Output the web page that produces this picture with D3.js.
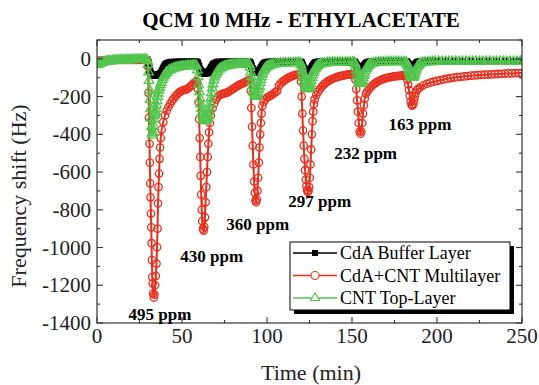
<!DOCTYPE html>
<html>
<head>
<meta charset="utf-8">
<script src="https://cdn.jsdelivr.net/npm/d3@7"></script>
<style>
  body { margin: 0; background: #fff; }
  svg { display: block; font-family: "Liberation Serif", "Times New Roman", serif; }
</style>
</head>
<body>
<div id="chart"></div>
<script>
// [time (min), frequency shift (Hz)]
var bufferLayer = [
  [0,-14],[2,-12],[4,-10],[6,-9],[8,-8],[10,-7],[12,-7],[14,-6],[16,-6],[18,-6],[20,-5],[22,-5],[24,-5],[26,-5],[28,-5],[29.5,-6],
  [30.2,-20],[30.6,-42],[31,-62],[31.5,-76],[32,-84],[32.5,-87],[33,-88],[33.5,-88],[34,-88],[34.5,-88],[35,-87],[35.5,-86],[36,-85],[36.5,-83],[37,-81],[37.5,-78],[38,-72],[38.5,-62],[39,-52],[39.5,-44],[40,-37],[40.5,-31],[41,-26],[42,-22],[43,-19],[44,-18],[46,-17],[48,-16],[50,-16],[52,-16],[54,-16],[56,-16],[58,-16],[58.8,-17],
  [59.3,-24],[59.8,-38],[60.3,-52],[60.8,-61],[61.3,-67],[61.8,-71],[62.3,-74],[62.8,-76],[63.3,-76],[63.8,-76],[64.3,-75],[64.8,-74],[65.3,-71],[65.8,-67],[66.3,-61],[66.8,-54],[67.3,-46],[67.8,-38],[68.3,-31],[69,-26],[70,-21],[71,-18],[72,-17],[74,-16],[76,-16],[78,-16],[80,-16],[82,-16],[84,-16],[86,-16],[88,-16],[89.8,-17],
  [90.3,-24],[90.8,-38],[91.3,-51],[91.8,-60],[92.3,-66],[92.8,-70],[93.3,-72],[93.8,-72],[94.3,-71],[94.8,-69],[95.3,-65],[95.8,-60],[96.3,-53],[96.8,-45],[97.3,-37],[97.8,-30],[98.4,-25],[99,-21],[100,-18],[101,-17],[103,-16],[105,-16],[108,-16],[111,-16],[114,-16],[117,-16],[119.8,-17],
  [120.3,-22],[120.8,-33],[121.3,-44],[121.8,-53],[122.3,-59],[122.8,-63],[123.3,-66],[123.8,-67],[124.3,-67],[124.8,-65],[125.3,-61],[125.8,-55],[126.3,-48],[126.8,-40],[127.3,-33],[127.8,-27],[128.4,-22],[129,-19],[130,-17],[131,-16],[133,-16],[136,-15],[139,-15],[142,-15],[145,-15],[148,-15],[151.3,-16],
  [151.8,-21],[152.3,-28],[152.8,-36],[153.3,-43],[153.8,-48],[154.3,-51],[154.8,-53],[155.3,-52],[155.8,-50],[156.3,-46],[156.8,-41],[157.3,-35],[157.8,-29],[158.4,-24],[159,-20],[160,-17],[161,-16],[163,-15],[166,-15],[170,-14],[174,-14],[178,-14],[181.8,-15],
  [182.3,-18],[182.8,-23],[183.3,-30],[183.8,-36],[184.3,-40],[184.8,-43],[185.3,-44],[185.8,-43],[186.3,-40],[186.8,-35],[187.3,-30],[187.8,-25],[188.4,-20],[189,-17],[190,-15],[191,-14],[193,-13],[196,-13],[200,-13],[205,-13],[210,-13],[215,-13],[220,-13],[225,-13],[230,-13],[235,-13],[240,-13],[245,-13],[250,-13]
];

var multiLayer = [
  [0,-10],[1.5,-9],[3,-8],[4.5,-8],[6,-7],[7.5,-7],[9,-7],[10.5,-6],[12,-6],[13.5,-6],[15,-6],[16.5,-6],[18,-5],[19.5,-5],[21,-5],[22.5,-5],[24,-5],[25.5,-5],[27,-6],[28.5,-6],[29.6,-9],
  [30.0,-40],[30.3,-180],[30.6,-312],[30.9,-450],[31.1,-550],[31.3,-660],[31.5,-734],[31.7,-820],[31.9,-893],[32.1,-977],[32.3,-1067],[32.5,-1157],[32.7,-1190],[33.0,-1243],[33.4,-1265],[33.8,-1250],[34.2,-1200],[34.6,-1150],[35.0,-1085],[35.3,-998],[35.6,-900],[35.9,-766],[36.2,-680],[36.5,-608],[36.8,-530],[37.1,-470],[37.5,-420],
  [38,-375],[39,-335],[40,-300],[41,-275],[42,-255],[43,-238],[44,-224],[45,-212],[46,-200],[47,-190],[48,-181],[49,-174],[50,-169],[51,-166],[52,-163],[53,-160],[54,-154],[55,-146],[56,-137],[57,-128],[58,-121],[58.6,-118],
  [59.0,-125],[59.4,-160],[59.8,-230],[60.1,-320],[60.4,-420],[60.7,-520],[61.0,-620],[61.3,-720],[61.6,-800],[61.9,-860],[62.3,-900],[62.7,-910],[63.1,-890],[63.5,-840],[63.9,-760],[64.3,-680],[64.7,-600],[65.1,-520],[65.5,-450],[65.9,-390],
  [66.4,-340],[67,-300],[68,-262],[69,-236],[70,-216],[71,-202],[72,-193],[73,-188],[74,-185],[75,-183],[76,-180],[77,-176],[78,-171],[79,-165],[80,-159],[81,-153],[82,-147],[83,-142],[84,-137],[85,-133],[86,-129],[87,-124],[88,-119],[89,-114],[89.6,-112],
  [90.0,-115],[90.4,-170],[90.8,-260],[91.2,-360],[91.6,-460],[92.0,-560],[92.4,-650],[92.8,-710],[93.2,-750],[93.6,-760],[94.0,-745],[94.4,-700],[94.8,-630],[95.2,-550],[95.6,-470],[96.0,-400],[96.4,-340],[96.8,-290],
  [97.3,-250],[98,-228],[99,-215],[100,-205],[101,-200],[102,-195],[103,-190],[104,-183],[105,-176],[106,-170],[107,-142],[108,-130],[109,-122],[110,-115],[111,-109],[112,-103],[113,-98],[114,-94],[115,-90],[116,-87],[117,-84],[118,-82],[119,-81],[119.5,-82],
  [120.0,-120],[120.4,-200],[120.8,-290],[121.2,-380],[121.6,-460],[122.0,-530],[122.4,-590],[122.8,-640],[123.2,-675],[123.6,-695],[124.0,-705],[124.4,-700],[124.8,-680],[125.2,-630],[125.6,-560],[126.0,-480],[126.4,-400],[126.8,-330],[127.2,-280],[127.6,-240],
  [128,-215],[129,-192],[130,-175],[131,-162],[132,-150],[133,-140],[134,-131],[135,-124],[136,-118],[137,-113],[138,-108],[139,-104],[140,-100],[141,-97],[142,-94],[143,-92],[144,-90],[145,-88],[146,-86],[147,-84],[148,-83],[149,-82],[150,-81],[151,-80],
  [151.5,-82],[152.0,-110],[152.5,-160],[153.0,-220],[153.5,-280],[154.0,-340],[154.5,-385],[155.0,-397],[155.5,-385],[156.0,-340],[156.5,-290],[157.0,-245],[157.5,-210],
  [158.2,-185],[159,-172],[160,-160],[161,-150],[162,-141],[163,-133],[164,-127],[165,-121],[166,-116],[167,-112],[168,-108],[169,-105],[170,-102],[171,-100],[172,-98],[173,-96],[174,-94],[175,-93],[176,-92],[177,-91],[178,-90],[179,-89],[180,-88],[181,-88],[181.6,-88],
  [182.0,-92],[182.5,-110],[183.0,-135],[183.5,-165],[184.0,-195],[184.5,-225],[185.0,-243],[185.5,-248],[186.0,-240],[186.5,-220],[187.0,-200],[187.5,-180],[188.2,-165],[189,-158],
  [190,-152],[192,-140],[194,-132],[196,-126],[198,-121],[200,-117],[202,-113],[204,-109],[206,-105],[208,-102],[210,-99],[212,-97],[214,-95],[216,-93],[218,-91],[220,-89],[222,-88],[224,-86],[226,-85],[228,-84],[230,-83],[232,-82],[234,-81],[236,-80],[238,-79],[240,-78],[242,-77],[244,-77],[246,-76],[248,-75],[250,-75]
];

var topLayer = [
  [0,-32],[1,-27],[2,-23],[3,-20],[4,-17],[5,-15],[6,-13],[7,-12],[8,-11],[9,-10],[10,-9],[11,-8],[12,-8],[13,-7],[14,-7],[15,-6],[16,-6],[17,-6],[18,-5],[19,-5],[20,-5],[21,-5],[22,-4],[23,-4],[24,-4],[25,-4],[26,-4],[27,-4],[28,-4],[29,-5],[29.6,-8],
  [30.0,-30],[30.3,-70],[30.6,-115],[30.9,-165],[31.2,-215],[31.5,-265],[31.8,-315],[32.1,-360],[32.4,-395],[32.7,-405],[33.0,-390],[33.3,-355],[33.6,-320],[33.9,-300],[34.2,-290],[34.5,-280],[34.8,-265],[35.1,-245],[35.4,-222],[35.7,-200],[36.0,-182],[36.4,-165],[36.8,-152],[37.3,-138],[37.8,-124],[38.4,-110],[39,-98],[39.6,-88],[40.3,-79],[41,-72],[42,-64],[43,-58],[44,-54],[45,-50],[46,-47],[47,-45],[48,-43],[49,-41],[50,-40],[51,-39],[52,-38],[53,-37],[54,-37],[55,-36],[56,-36],[57,-35],[58,-35],[58.6,-38],
  [59.0,-60],[59.4,-95],[59.8,-135],[60.2,-175],[60.6,-210],[61.0,-240],[61.4,-265],[61.8,-285],[62.2,-300],[62.6,-312],[63.0,-320],[63.4,-326],[63.8,-329],[64.2,-329],[64.6,-324],[65.0,-314],[65.4,-300],[65.8,-282],[66.2,-260],[66.6,-235],[67.0,-208],[67.4,-180],[67.8,-155],[68.2,-133],[68.7,-113],[69.2,-97],[69.8,-84],[70.4,-74],[71,-66],[72,-56],[73,-49],[74,-44],[75,-40],[76,-37],[77,-35],[78,-33],[79,-32],[80,-31],[81,-30],[82,-30],[83,-29],[84,-29],[85,-28],[86,-28],[87,-28],[88,-28],[89,-28],[89.6,-30],
  [90.0,-45],[90.4,-70],[90.8,-95],[91.2,-120],[91.6,-143],[92.0,-162],[92.4,-178],[92.8,-190],[93.2,-198],[93.6,-200],[94.0,-197],[94.4,-189],[94.8,-177],[95.2,-162],[95.6,-145],[96.0,-127],[96.4,-110],[96.8,-95],[97.3,-80],[97.8,-68],[98.4,-58],[99,-50],[99.7,-44],[100.5,-39],[101.5,-35],[102.5,-32],[103.5,-29],[105,-27],[106.5,-25],[108,-24],[109.5,-23],[111,-22],[112.5,-22],[114,-21],[115.5,-21],[117,-20],[118.5,-20],[119.6,-21],
  [120.0,-32],[120.4,-48],[120.8,-66],[121.2,-84],[121.6,-101],[122.0,-116],[122.4,-130],[122.8,-142],[123.2,-151],[123.6,-157],[124.0,-160],[124.4,-158],[124.8,-152],[125.2,-142],[125.6,-129],[126.0,-115],[126.4,-100],[126.8,-86],[127.3,-72],[127.8,-61],[128.4,-51],[129,-43],[129.7,-37],[130.5,-32],[131.5,-28],[132.5,-25],[134,-23],[135.5,-21],[137,-20],[138.5,-19],[140,-19],[141.5,-18],[143,-18],[144.5,-18],[146,-18],[147.5,-18],[149,-18],[150.5,-18],[151.4,-19],
  [151.8,-28],[152.2,-42],[152.6,-58],[153.0,-75],[153.4,-92],[153.8,-107],[154.2,-119],[154.6,-127],[155.0,-132],[155.4,-131],[155.8,-125],[156.2,-115],[156.6,-102],[157.0,-88],[157.4,-75],[157.9,-62],[158.4,-51],[159,-42],[159.7,-35],[160.5,-29],[161.5,-25],[162.5,-22],[164,-20],[165.5,-18],[167,-17],[168.5,-17],[170,-16],[171.5,-16],[173,-16],[174.5,-16],[176,-16],[177.5,-16],[179,-16],[180.5,-16],[181.8,-17],
  [182.2,-24],[182.6,-33],[183.0,-44],[183.4,-56],[183.8,-68],[184.2,-79],[184.6,-88],[185.0,-95],[185.4,-99],[185.8,-99],[186.2,-95],[186.6,-87],[187.0,-77],[187.4,-66],[187.8,-55],[188.3,-45],[188.9,-36],[189.6,-29],[190.4,-24],[191.5,-20],[193,-18],[194.5,-17],[196,-16],[197.5,-16],[199,-15],[201,-15],[203,-15],[205,-15],[207,-15],[209,-15],[211,-15],[213,-15],[215,-15],[217,-15],[219,-15],[221,-15],[223,-15],[225,-15],[227,-15],[229,-15],[231,-15],[233,-15],[235,-15],[237,-15],[239,-15],[241,-15],[243,-15],[245,-15],[247,-15],[249,-15],[250,-15]
];

var seriesNames = ["CdA Buffer Layer", "CdA+CNT Multilayer", "CNT Top-Layer"];
var seriesColors = ["#000000", "#e8301f", "#52c64e"];
var seriesSymbols = ["square", "circle", "triangle"];

// concentration labels, anchored at [time, shift] (text centre, baseline)
var concLabels = ["495 ppm", "430 ppm", "360 ppm", "297 ppm", "232 ppm", "163 ppm"];
var concAnchors = [[37, -1382], [67.5, -1075], [94.5, -905], [131, -785], [158, -530], [190, -375]];

var xTicks = [0, 50, 100, 150, 200, 250];
var yTicks = [0, -200, -400, -600, -800, -1000, -1200, -1400];

var width = 539, height = 385;
var margin = {left: 97, top: 40, right: 17, bottom: 62};
var axisColor = "#333";

var svg = d3.select("#chart").append("svg")
    .attr("width", width)
    .attr("height", height);

var x = d3.scaleLinear().domain([0, 250]).range([margin.left, width - margin.right]);
var y = d3.scaleLinear().domain([-1400, 100]).range([height - margin.bottom, margin.top]);

svg.append("defs").append("clipPath").attr("id", "plot-clip")
  .append("rect")
    .attr("x", x(0)).attr("y", y(100))
    .attr("width", x(250) - x(0)).attr("height", y(-1400) - y(100));

// title
svg.append("text")
    .attr("x", 301).attr("y", 27)
    .attr("text-anchor", "middle")
    .attr("font-size", 21).attr("font-weight", "bold")
    .text("QCM 10 MHz - ETHYLACETATE");

// series
var plot = svg.append("g").attr("clip-path", "url(#plot-clip)");
var line = d3.line().x(d => x(d[0])).y(d => y(d[1]));

function drawMarkers(g, data, symbol, color){
  if(symbol === "square"){
    g.selectAll("rect").data(data).enter().append("rect")
      .attr("x", d => x(d[0]) - 3.5).attr("y", d => y(d[1]) - 3.5)
      .attr("width", 7).attr("height", 7)
      .attr("fill", color);
  } else if(symbol === "circle"){
    g.selectAll("circle").data(data).enter().append("circle")
      .attr("cx", d => x(d[0])).attr("cy", d => y(d[1]))
      .attr("r", 3.7)
      .attr("fill", "none").attr("stroke", color).attr("stroke-width", 1.3);
  } else {
    var tri = d3.symbol().type(d3.symbolTriangle).size(40);
    g.selectAll("path").data(data).enter().append("path")
      .attr("transform", d => "translate(" + x(d[0]) + "," + y(d[1]) + ")")
      .attr("d", tri)
      .attr("fill", "none").attr("stroke", color).attr("stroke-width", 1.3);
  }
}

[bufferLayer, multiLayer, topLayer].forEach(function(data, i){
  var g = plot.append("g");
  g.append("path")
    .attr("d", line(data))
    .attr("fill", "none")
    .attr("stroke", seriesColors[i])
    .attr("stroke-width", 2);
  drawMarkers(g.append("g"), data, seriesSymbols[i], seriesColors[i]);
});

// frame and ticks (inward, mirrored on all four sides)
svg.append("rect")
    .attr("x", x(0)).attr("y", y(100))
    .attr("width", x(250) - x(0)).attr("height", y(-1400) - y(100))
    .attr("fill", "none").attr("stroke", axisColor).attr("stroke-width", 1.2);

var ticks = svg.append("g").attr("stroke", axisColor).attr("stroke-width", 1.1);
d3.range(0, 251, 25).forEach(function(t){
  var len = t % 50 === 0 ? 6 : 3;
  ticks.append("line").attr("x1", x(t)).attr("x2", x(t)).attr("y1", y(-1400)).attr("y2", y(-1400) - len);
  ticks.append("line").attr("x1", x(t)).attr("x2", x(t)).attr("y1", y(100)).attr("y2", y(100) + len);
});
d3.range(-1400, 101, 100).forEach(function(v){
  var len = v % 200 === 0 ? 6 : 3;
  ticks.append("line").attr("y1", y(v)).attr("y2", y(v)).attr("x1", x(0)).attr("x2", x(0) + len);
  ticks.append("line").attr("y1", y(v)).attr("y2", y(v)).attr("x1", x(250)).attr("x2", x(250) - len);
});

svg.append("g").selectAll("text").data(xTicks).enter().append("text")
    .attr("x", d => x(d)).attr("y", y(-1400) + 20)
    .attr("text-anchor", "middle").attr("font-size", 21).attr("fill", "#222")
    .text(d => d);

svg.append("g").selectAll("text").data(yTicks).enter().append("text")
    .attr("x", x(0) - 6).attr("y", d => y(d) + 7)
    .attr("text-anchor", "end").attr("font-size", 21).attr("fill", "#222")
    .text(d => d);

svg.append("text")
    .attr("x", 311).attr("y", 380)
    .attr("text-anchor", "middle").attr("font-size", 22).attr("fill", "#222")
    .text("Time (min)");

svg.append("text")
    .attr("transform", "translate(26,196) rotate(-90)")
    .attr("text-anchor", "middle").attr("font-size", 22).attr("fill", "#222")
    .text("Frequency shift (Hz)");

// concentration labels
svg.append("g").selectAll("text").data(concLabels).enter().append("text")
    .attr("x", (d, i) => x(concAnchors[i][0]))
    .attr("y", (d, i) => y(concAnchors[i][1]))
    .attr("text-anchor", "middle").attr("font-size", 17).attr("font-weight", "bold")
    .text(d => d);

// legend
var legend = svg.append("g").attr("transform", "translate(290,242)");
legend.append("rect").attr("x", 4).attr("y", 4).attr("width", 220).attr("height", 68).attr("fill", "#000");
legend.append("rect").attr("width", 220).attr("height", 68).attr("fill", "#fff").attr("stroke", "#000").attr("stroke-width", 1);

seriesNames.forEach(function(name, i){
  var row = legend.append("g").attr("transform", "translate(0," + (11 + i * 22.5) + ")");
  row.append("line").attr("x1", 3).attr("x2", 47).attr("stroke", seriesColors[i]).attr("stroke-width", 1.6);
  var m = row.append("g");
  if(seriesSymbols[i] === "square"){
    m.append("rect").attr("x", 22).attr("y", -3).attr("width", 6).attr("height", 6).attr("fill", seriesColors[i]);
  } else if(seriesSymbols[i] === "circle"){
    m.append("circle").attr("cx", 25).attr("r", 4).attr("fill", "#fff").attr("stroke", seriesColors[i]).attr("stroke-width", 1.1);
  } else {
    m.append("path").attr("transform", "translate(25,0)").attr("d", d3.symbol().type(d3.symbolTriangle).size(34))
      .attr("fill", "#fff").attr("stroke", seriesColors[i]).attr("stroke-width", 1.1);
  }
  row.append("text").attr("x", 50).attr("y", 6).attr("font-size", 18).text(name);
});
</script>
</body>
</html>
